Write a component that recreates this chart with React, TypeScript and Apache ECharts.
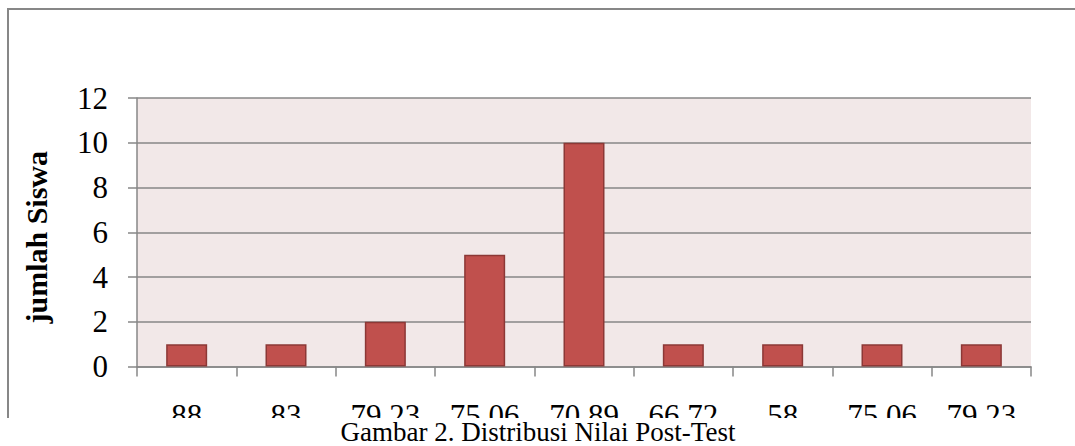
import React, { useEffect, useRef } from "react";
import * as echarts from "echarts";

const categories = ["88", "83", "79.23", "75.06", "70.89", "66.72", "58", "75.06", "79.23"];
const jumlahSiswa = [1, 1, 2, 5, 10, 1, 1, 1, 1];
const yTicks = { min: 0, max: 12, interval: 2 };
const yAxisTitle = "jumlah Siswa";
const caption = "Gambar 2. Distribusi Nilai Post-Test";

const SERIF = "'Liberation Serif', 'Times New Roman', serif";
const GRAY = "#878787";

export default function App() {
  const ref = useRef<HTMLDivElement>(null);
  useEffect(() => {
    if (!ref.current) return;
    const chart = echarts.init(ref.current, undefined, { renderer: "svg" });
    chart.setOption({
      animation: false,
      backgroundColor: "#ffffff",
      grid: {
        left: 137,
        top: 98,
        width: 894,
        height: 268.5,
        show: true,
        backgroundColor: "#F2E8E8",
        borderWidth: 0,
        containLabel: false,
      },
      xAxis: {
        type: "category",
        data: categories,
        boundaryGap: true,
        axisLine: { show: true, lineStyle: { color: GRAY, width: 1.5 } },
        axisTick: { show: true, length: 10, lineStyle: { color: GRAY, width: 1.5 } },
        axisLabel: {
          fontFamily: SERIF,
          fontSize: 31,
          color: "#000",
          margin: 33,
          interval: 0,
        },
        splitLine: { show: false },
      },
      yAxis: {
        type: "value",
        min: yTicks.min,
        max: yTicks.max,
        interval: yTicks.interval,
        name: yAxisTitle,
        nameLocation: "middle",
        nameGap: 86,
        nameRotate: 90,
        nameTextStyle: {
          fontFamily: SERIF,
          fontSize: 30,
          fontWeight: "bold",
          color: "#000",
          padding: [0, 10, 0, 0],
        },
        axisLine: { show: true, lineStyle: { color: GRAY, width: 1.5 } },
        axisTick: { show: true, length: 9, lineStyle: { color: GRAY, width: 1.5 } },
        axisLabel: {
          fontFamily: SERIF,
          fontSize: 31,
          color: "#000",
          margin: 29,
        },
        splitLine: { show: true, lineStyle: { color: GRAY, width: 1.5 } },
      },
      series: [
        {
          type: "bar",
          data: jumlahSiswa,
          barWidth: 41,
          itemStyle: {
            color: "#C0504D",
            borderColor: "#8C3836",
            borderWidth: 1.5,
          },
        },
      ],
      graphic: [
        {
          type: "rect",
          z: 100,
          shape: { x: 0, y: 418, width: 1075, height: 28 },
          style: { fill: "#ffffff" },
        },
        {
          type: "line",
          z: 101,
          shape: { x1: 8, y1: 9, x2: 1075, y2: 9 },
          style: { stroke: GRAY, lineWidth: 2 },
        },
        {
          type: "line",
          z: 101,
          shape: { x1: 8, y1: 8, x2: 8, y2: 418 },
          style: { stroke: GRAY, lineWidth: 2 },
        },
        {
          type: "text",
          z: 102,
          x: 538,
          y: 432,
          style: {
            text: caption,
            fontFamily: SERIF,
            fontSize: 27,
            fill: "#000",
            align: "center",
            verticalAlign: "middle",
          },
        },
      ],
    });
    return () => chart.dispose();
  }, []);
  return (
    <div
      ref={ref}
      style={{ position: "fixed", left: 0, top: 0, width: 1075, height: 446 }}
    />
  );
}
